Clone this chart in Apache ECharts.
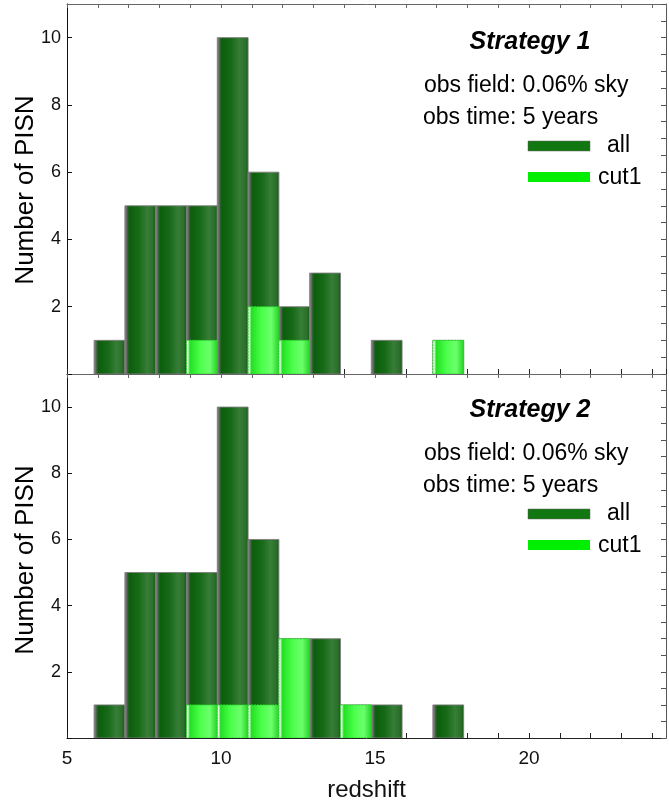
<!DOCTYPE html>
<html>
<head>
<meta charset="utf-8">
<script src="https://cdn.jsdelivr.net/npm/echarts@6/dist/echarts.min.js"></script>
<style>
html,body{margin:0;padding:0;background:#fff;}
#chart{width:669px;height:803px;}
</style>
</head>
<body>
<div id="chart"></div>
<script>
// ---- data ----
const binWidth = 1;
const binStarts = [5.88, 6.88, 7.88, 8.88, 9.88, 10.88, 11.88, 12.88, 13.88, 14.88, 15.88, 16.88];
const strategy1All  = [1, 5, 5, 5, 10, 6, 2, 3, 0, 1, 0, 1];
const strategy1Cut1 = [0, 0, 0, 1, 0, 2, 1, 0, 0, 0, 0, 1];
const strategy2All  = [1, 5, 5, 5, 10, 6, 3, 3, 1, 1, 0, 1];
const strategy2Cut1 = [0, 0, 0, 1, 1, 1, 3, 0, 1, 0, 0, 0];
const yTickLabels = [2, 4, 6, 8, 10];
const xTickLabels = [5, 10, 15, 20];
const panelTitles = ['Strategy 1', 'Strategy 2'];
const infoLines = ['obs field: 0.06% sky', 'obs time: 5 years'];
const legendNames = ['all', 'cut1'];

const chart = echarts.init(document.getElementById('chart'), null, {renderer: 'canvas'});
const FONT = '"Liberation Sans", Arial, sans-serif';
const G = echarts.graphic;

const darkFill = new G.LinearGradient(0, 0, 1, 0, [
  {offset: 0, color: '#8c8c8c'},
  {offset: 0.07, color: '#6a6a6a'},
  {offset: 0.11, color: '#2a642a'},
  {offset: 0.16, color: '#0b5e0b'},
  {offset: 0.45, color: '#176a17'},
  {offset: 0.72, color: '#377d37'},
  {offset: 0.9, color: '#2a6f2a'},
  {offset: 1, color: '#135613'}
]);
const lightFill = new G.LinearGradient(0, 0, 1, 0, [
  {offset: 0, color: '#9be89b'},
  {offset: 0.05, color: '#f2fff2'},
  {offset: 0.12, color: '#22e022'},
  {offset: 0.45, color: '#4cff4c'},
  {offset: 0.75, color: '#6cff6c'},
  {offset: 1, color: '#1fd21f'}
]);

function pairs(vals) { return binStarts.map((b, i) => [b, vals[i]]); }

function makeRender(fill, stroke, dash) {
  return function (params, api) {
    const x0 = api.value(0), y = api.value(1);
    if (!(y > 0)) return null;
    const p0 = api.coord([x0, y]);
    const p1 = api.coord([x0 + binWidth, 0]);
    return {
      type: 'rect',
      shape: {x: p0[0], y: p0[1], width: p1[0] - p0[0], height: p1[1] - p0[1]},
      style: {fill: fill, stroke: stroke, lineWidth: 1, lineDash: dash}
    };
  };
}

const gridTops = [4, 374];
const gridH = 370;
const grids = gridTops.map(t => ({left: 67, top: t, width: 599, height: gridH}));

const xAxes = [];
const yAxes = [];
[0, 1].forEach(g => {
  // bottom
  xAxes.push({
    type: 'value', gridIndex: g, position: 'bottom', min: 5, max: 24.45, interval: 1,
    axisLine: {show: true, onZero: false, lineStyle: {color: '#222', width: 1}},
    axisTick: {show: true, inside: true, length: 5, lineStyle: {color: '#222'}},
    axisLabel: {
      show: g === 1, fontFamily: FONT, fontSize: 19, color: '#111', margin: 11,
      showMaxLabel: false,
      formatter: v => (xTickLabels.indexOf(v) >= 0 ? String(v) : '')
    },
    splitLine: {show: false},
    name: g === 1 ? 'redshift' : '', nameLocation: 'middle', nameGap: 40,
    nameTextStyle: {fontFamily: FONT, fontSize: 24, color: '#111'}
  });
  // top
  xAxes.push({
    type: 'value', gridIndex: g, position: 'top', min: 5, max: 24.45, interval: 1,
    axisLine: {show: true, onZero: false, lineStyle: {color: '#666', width: 1}},
    axisTick: {show: true, inside: true, length: 4, lineStyle: {color: '#666'}},
    axisLabel: {show: false}, splitLine: {show: false}
  });
  // left
  yAxes.push({
    type: 'value', gridIndex: g, position: 'left', min: 0, max: 11, interval: 2,
    axisLine: {show: true, onZero: false, lineStyle: {color: '#111', width: 1}},
    axisTick: {show: true, inside: true, length: 5, lineStyle: {color: '#111'}},
    axisLabel: {
      show: true, fontFamily: FONT, fontSize: 18, color: '#111', margin: 6,
      showMaxLabel: false,
      formatter: v => (yTickLabels.indexOf(v) >= 0 ? String(v) : '')
    },
    splitLine: {show: false}
  });
  // right
  yAxes.push({
    type: 'value', gridIndex: g, position: 'right', min: 0, max: 11, interval: 0.5,
    axisLine: {show: true, onZero: false, lineStyle: {color: '#555', width: 1}},
    axisTick: {show: true, inside: true, length: 5, lineStyle: {color: '#555'}},
    axisLabel: {show: false}, splitLine: {show: false}
  });
});

const series = [];
[[strategy1All, strategy1Cut1], [strategy2All, strategy2Cut1]].forEach((pair, g) => {
  series.push({
    type: 'custom', name: 'all', xAxisIndex: g * 2, yAxisIndex: g * 2,
    renderItem: makeRender(darkFill, 'rgba(125,125,125,0.9)', null),
    encode: {x: 0, y: 1}, data: pairs(pair[0]), clip: true
  });
  series.push({
    type: 'custom', name: 'cut1', xAxisIndex: g * 2, yAxisIndex: g * 2,
    renderItem: makeRender(lightFill, '#2ad42a', [2, 1]),
    encode: {x: 0, y: 1}, data: pairs(pair[1]), clip: true
  });
});

// annotation texts and legend swatches
const graphic = [];
const panelOffsets = [0, 368];
panelOffsets.forEach((dy, g) => {
  graphic.push({
    type: 'text', x: 530, y: 42 + dy,
    style: {text: panelTitles[g], font: 'italic bold 25px ' + FONT, fill: '#000',
            textAlign: 'center', textVerticalAlign: 'middle'}
  });
  graphic.push({
    type: 'text', x: 424, y: 86 + dy,
    style: {text: infoLines[0], font: '23px ' + FONT, fill: '#000', textVerticalAlign: 'middle'}
  });
  graphic.push({
    type: 'text', x: 423, y: 118 + dy,
    style: {text: infoLines[1], font: '23px ' + FONT, fill: '#000', textVerticalAlign: 'middle'}
  });
  graphic.push({
    type: 'rect', shape: {x: 528, y: 141 + dy, width: 62, height: 10},
    style: {fill: '#117711', stroke: '#666', lineWidth: 0.5}
  });
  graphic.push({
    type: 'text', x: 607, y: 146 + dy,
    style: {text: legendNames[0], font: '23px ' + FONT, fill: '#000', textVerticalAlign: 'middle'}
  });
  graphic.push({
    type: 'rect', shape: {x: 528, y: 172 + dy, width: 62, height: 10},
    style: {fill: '#00ee00'}
  });
  graphic.push({
    type: 'text', x: 598, y: 178 + dy,
    style: {text: legendNames[1], font: '23px ' + FONT, fill: '#000', textVerticalAlign: 'middle'}
  });
  graphic.push({
    type: 'text', x: 26, y: 190 + dy * (370 / 368), rotation: Math.PI / 2,
    style: {text: 'Number of PISN', font: '26px ' + FONT, fill: '#000',
            textAlign: 'center', textVerticalAlign: 'middle'}
  });
});

chart.setOption({
  animation: false,
  backgroundColor: '#fff',
  grid: grids,
  xAxis: xAxes,
  yAxis: yAxes,
  series: series,
  graphic: graphic
});
</script>
</body>
</html>
